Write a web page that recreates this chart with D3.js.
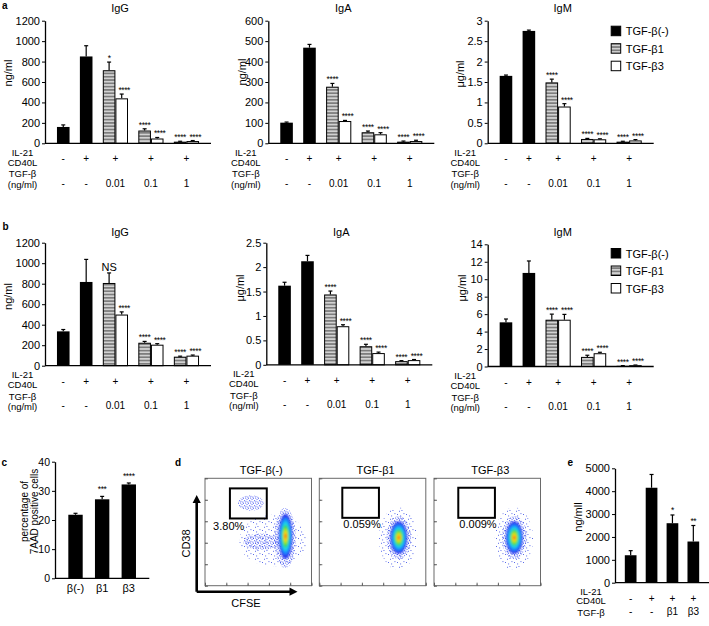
<!DOCTYPE html>
<html><head><meta charset="utf-8">
<script src="https://cdn.jsdelivr.net/npm/d3@7"></script>
<style>
body{margin:0;background:#fff}
svg{display:block}
text{font-family:"Liberation Sans",Arial,sans-serif;fill:#000}
</style></head><body>
<svg id="fig" width="709" height="626"></svg>
<script>
// ---------------- DATA ----------------
const groupIL21 = ["-", "+", "+", "+", "+"];
const groupTGF = ["-", "-", "0.01", "0.1", "1"];
const seriesNames = ["TGF-β(-)", "TGF-β1", "TGF-β3"];

// panel a
const aIgG_ticks = [0, 200, 400, 600, 800, 1000, 1200];
const aIgG_neg = [160, 850], aIgG_negSD = [20, 105];
const aIgG_b1 = [715, 125, 16], aIgG_b1SD = [80, 17, 4], aIgG_b1Sig = ["*", "****", "****"];
const aIgG_b3 = [440, 47, 22], aIgG_b3SD = [42, 10, 5], aIgG_b3Sig = ["****", "****", "****"];

const aIgA_ticks = [0, 100, 200, 300, 400, 500, 600];
const aIgA_neg = [101, 468], aIgA_negSD = [3, 16];
const aIgA_b1 = [277, 54, 8], aIgA_b1SD = [16, 6, 3], aIgA_b1Sig = ["****", "****", "****"];
const aIgA_b3 = [109, 44, 11], aIgA_b3SD = [3, 8, 4], aIgA_b3Sig = ["****", "****", "****"];

const aIgM_ticks = [0, 0.5, 1, 1.5, 2, 2.5, 3];
const aIgM_neg = [1.65, 2.75], aIgM_negSD = [0.02, 0.02];
const aIgM_b1 = [1.49, 0.106, 0.04], aIgM_b1SD = [0.08, 0.014, 0.01], aIgM_b1Sig = ["****", "****", "****"];
const aIgM_b3 = [0.90, 0.098, 0.07], aIgM_b3SD = [0.07, 0.012, 0.02], aIgM_b3Sig = ["****", "****", "****"];

// panel b
const bIgG_ticks = [0, 200, 400, 600, 800, 1000, 1200];
const bIgG_neg = [335, 817], bIgG_negSD = [18, 220];
const bIgG_b1 = [807, 224, 88], bIgG_b1SD = [98, 13, 5], bIgG_b1Sig = ["NS", "****", "****"];
const bIgG_b3 = [499, 205, 98], bIgG_b3SD = [26, 10, 6], bIgG_b3Sig = ["****", "****", "****"];

const bIgA_ticks = [0, 0.5, 1, 1.5, 2, 2.5];
const bIgA_neg = [1.62, 2.12], bIgA_negSD = [0.07, 0.12];
const bIgA_b1 = [1.44, 0.38, 0.075], bIgA_b1SD = [0.07, 0.04, 0.01], bIgA_b1Sig = ["****", "****", "****"];
const bIgA_b3 = [0.79, 0.24, 0.096], bIgA_b3SD = [0.03, 0.02, 0.012], bIgA_b3Sig = ["****", "****", "****"];

const bIgM_ticks = [0, 2, 4, 6, 8, 10, 12, 14];
const bIgM_neg = [5.06, 10.72], bIgM_negSD = [0.38, 1.37];
const bIgM_b1 = [5.36, 1.10, 0.08], bIgM_b1SD = [0.64, 0.19, 0.02], bIgM_b1Sig = ["****", "****", "****"];
const bIgM_b3 = [5.36, 1.52, 0.15], bIgM_b3SD = [0.61, 0.11, 0.02], bIgM_b3Sig = ["****", "****", "****"];

// panel c
const cCats = ["β(-)", "β1", "β3"];
const cTicks = [0, 10, 20, 30, 40];
const cVals = [21.8, 27.1, 32.2], cSD = [0.5, 1.0, 0.5], cSig = ["", "***", "****"];

// panel d (flow cytometry, axes in log decades)
const flowTitles = ["TGF-β(-)", "TGF-β1", "TGF-β3"];
const flowPct = ["3.80%", "0.059%", "0.009%"];
const flowGates = [[1.17, 2.9, 3.13, 4.53], [1.08, 2.8, 3.16, 4.56], [1.14, 2.86, 3.16, 4.56]];
const flowCores = [[0, 3.78, 2.3, 0.32, 1.05], [1, 3.73, 2.24, 0.40, 0.75], [2, 3.77, 2.24, 0.40, 0.75]];
const flowRims = [[0, 3.76, 2.22, 0.5, 1.4], [0, 2.65, 2.05, 0.85, 0.38], [0, 2.15, 3.85, 0.6, 0.36],
                  [1, 3.73, 2.24, 0.58, 1.0], [2, 3.77, 2.24, 0.58, 1.0]];
const flowSparse = [[0, 3.2, 2.1, 1.6, 1.2], [1, 3.7, 2.2, 0.9, 1.45], [2, 3.75, 2.2, 0.9, 1.45]];

// panel e
const eIL21 = ["-", "+", "+", "+"];
const eTGF = ["-", "-", "β1", "β3"];
const eTicks = [0, 1000, 2000, 3000, 4000, 5000];
const eVals = [1200, 4150, 2600, 1800], eSD = [200, 580, 360, 700], eSig = ["", "", "*", "**"];

// ---------------- DRAW ----------------
const svg = d3.select("#fig");
const defs = svg.append("defs");
const pat = defs.append("pattern").attr("id", "stripes").attr("patternUnits", "userSpaceOnUse")
  .attr("width", 4).attr("height", 3.3);
pat.append("rect").attr("width", 4).attr("height", 3.3).attr("fill", "#d2d2d2");
pat.append("rect").attr("width", 4).attr("height", 1.65).attr("fill", "#7d7d7d");

const sp = defs.append("pattern").attr("id", "dotsSparse").attr("patternUnits", "userSpaceOnUse")
  .attr("width", 9).attr("height", 8);
[[1, 2], [5.5, 6], [7.5, 1.2], [3, 6.8], [4.2, 3.5]].forEach(p =>
  sp.append("rect").attr("x", p[0]).attr("y", p[1]).attr("width", 0.9).attr("height", 0.9).attr("fill", "#3348e6"));
const dp = defs.append("pattern").attr("id", "dotsDense").attr("patternUnits", "userSpaceOnUse")
  .attr("width", 5).attr("height", 5);
[[0.5, 0.8], [3, 2.8], [1.6, 3.9], [4.1, 0.3], [2.4, 1.6], [0.2, 2.6]].forEach(p =>
  dp.append("rect").attr("x", p[0]).attr("y", p[1]).attr("width", 0.9).attr("height", 0.9).attr("fill", "#2a3df0"));
defs.append("filter").attr("id", "blur").attr("x", "-50%").attr("y", "-50%").attr("width", "200%").attr("height", "200%")
  .append("feGaussianBlur").attr("stdDeviation", 1.1);

const fmt = d => String(d);
const seriesFill = ["#000", "url(#stripes)", "#fff"];

function styleAxis(ax, fs) {
  ax.select(".domain").attr("stroke", "#000").attr("stroke-width", 1.3);
  ax.selectAll(".tick line").attr("stroke", "#000").attr("stroke-width", 1);
  ax.selectAll(".tick text").attr("font-size", fs).attr("fill", "#000")
    .attr("font-family", '"Liberation Sans",Arial,sans-serif');
}

function sigText(g, x, y, s) {
  g.append("text").attr("x", x).attr("y", y).attr("text-anchor", "middle")
    .attr("font-size", 8.5).attr("letter-spacing", -0.4).text(s);
}

function drawBars(g, bars, x, y, y0) {
  bars.forEach(b => {
    const xl = x(b.u), xr = x(b.u + 1), cx = (xl + xr) / 2;
    const yt = y(b.v), ye = y(b.v + b.sd);
    g.append("line").attr("x1", cx).attr("x2", cx).attr("y1", yt).attr("y2", ye).attr("stroke", "#000").attr("stroke-width", 1.2);
    g.append("line").attr("x1", cx - 2).attr("x2", cx + 2).attr("y1", ye).attr("y2", ye).attr("stroke", "#000").attr("stroke-width", 1.2);
    const r = g.append("rect").attr("fill", seriesFill[b.s]);
    if (b.s === 0) r.attr("x", xl).attr("y", yt).attr("width", xr - xl).attr("height", y0 - yt);
    else r.attr("x", xl + 0.5).attr("y", yt + 0.5).attr("width", xr - xl - 1).attr("height", Math.max(0, y0 - yt - 0.5))
      .attr("stroke", "#000").attr("stroke-width", 1);
    if (b.sig) {
      if (b.sig === "NS") g.append("text").attr("x", cx).attr("y", ye - 2).attr("text-anchor", "middle").attr("font-size", 11).text(b.sig);
      else sigText(g, cx + (b.s === 2 ? 2.5 : 0), ye - 1, b.sig);
    }
  });
}

function drawBarPanel(o) {
  const g = svg.append("g");
  const W = 166;
  const y = d3.scaleLinear().domain([0, d3.max(o.ticks)]).range([o.y0, o.yTop]);
  const groups = groupIL21.map((il, i) => i < o.neg.length
    ? [{ s: 0, v: o.neg[i], sd: o.negSD[i], sig: null }]
    : [{ s: 1, v: o.b1[i - 2], sd: o.b1SD[i - 2], sig: o.b1Sig[i - 2] },
       { s: 2, v: o.b3[i - 2], sd: o.b3SD[i - 2], sig: o.b3Sig[i - 2] }]);
  const PAD = 0.95, GAP = 0.82;
  let cur = PAD; const bars = [], centers = [];
  groups.forEach(bs => { const st = cur; bs.forEach(b => { bars.push(Object.assign({ u: cur }, b)); cur += 1; }); centers.push((st + cur) / 2); cur += GAP; });
  const total = cur - GAP + PAD;
  const x = d3.scaleLinear().domain([0, total]).range([o.x0, o.x0 + W]);

  drawBars(g, bars, x, y, o.y0);

  const ax = g.append("g").attr("transform", `translate(${o.x0},0)`)
    .call(d3.axisLeft(y).tickValues(o.ticks).tickFormat(fmt).tickSize(3).tickSizeOuter(0).tickPadding(2));
  styleAxis(ax, 11);
  g.append("line").attr("x1", o.x0).attr("x2", o.x0 + W).attr("y1", o.y0).attr("y2", o.y0).attr("stroke", "#000").attr("stroke-width", 1.3);

  g.append("text").attr("x", o.x0 + 75).attr("y", o.titleY).attr("text-anchor", "middle").attr("dominant-baseline", "central").attr("font-size", 11).text(o.title);
  g.append("text").attr("transform", `translate(${o.ylx},${o.yly}) rotate(-90)`).attr("text-anchor", "middle").attr("dominant-baseline", "central").attr("font-size", 11).text(o.unit);

  const lx = o.x0 - 22.5;
  g.append("text").attr("x", lx).attr("y", o.y0 + 12.6).attr("text-anchor", "middle").attr("font-size", 9.5).text("IL-21");
  g.append("text").attr("x", lx).attr("y", o.y0 + 22.2).attr("text-anchor", "middle").attr("font-size", 9.5).text("CD40L");
  g.append("text").attr("x", lx).attr("y", o.y0 + 34).attr("text-anchor", "middle").attr("font-size", 9.5).text("TGF-β");
  g.append("text").attr("x", lx).attr("y", o.y0 + 44.2).attr("text-anchor", "middle").attr("font-size", 9.5).text("(ng/ml)");
  centers.forEach((c, i) => {
    g.append("text").attr("x", x(c)).attr("y", o.y0 + 15.5).attr("text-anchor", "middle").attr("dominant-baseline", "central").attr("font-size", 10).text(groupIL21[i]);
    g.append("text").attr("x", x(c)).attr("y", o.y0 + 40).attr("text-anchor", "middle").attr("dominant-baseline", "central").attr("font-size", 10).text(groupTGF[i]);
  });
}

function drawLegend(x, top) {
  const g = svg.append("g");
  seriesNames.forEach((n, i) => {
    const yy = top + i * 17.5;
    g.append("rect").attr("x", x + 0.5).attr("y", yy + 0.5).attr("width", 9.5).attr("height", 9.5)
      .attr("fill", seriesFill[i]).attr("stroke", "#000").attr("stroke-width", 1);
    g.append("text").attr("x", x + 15).attr("y", yy + 5.5).attr("dominant-baseline", "central").attr("font-size", 11).text(n);
  });
}

const panels = [
  { title: "IgG", unit: "ng/ml", x0: 45, y0: 143.3, yTop: 20.7, titleY: 7.5, ylx: 7.5, yly: 73, ticks: aIgG_ticks,
    neg: aIgG_neg, negSD: aIgG_negSD, b1: aIgG_b1, b1SD: aIgG_b1SD, b1Sig: aIgG_b1Sig, b3: aIgG_b3, b3SD: aIgG_b3SD, b3Sig: aIgG_b3Sig },
  { title: "IgA", unit: "ng/ml", x0: 268.3, y0: 143.3, yTop: 20.7, titleY: 7.5, ylx: 241.5, yly: 72, ticks: aIgA_ticks,
    neg: aIgA_neg, negSD: aIgA_negSD, b1: aIgA_b1, b1SD: aIgA_b1SD, b1Sig: aIgA_b1Sig, b3: aIgA_b3, b3SD: aIgA_b3SD, b3Sig: aIgA_b3Sig },
  { title: "IgM", unit: "μg/ml", x0: 487.7, y0: 143.3, yTop: 20.7, titleY: 7.5, ylx: 459.5, yly: 74, ticks: aIgM_ticks,
    neg: aIgM_neg, negSD: aIgM_negSD, b1: aIgM_b1, b1SD: aIgM_b1SD, b1Sig: aIgM_b1Sig, b3: aIgM_b3, b3SD: aIgM_b3SD, b3Sig: aIgM_b3Sig },
  { title: "IgG", unit: "ng/ml", x0: 45, y0: 365.7, yTop: 242.7, titleY: 232, ylx: 7.5, yly: 296.5, ticks: bIgG_ticks,
    neg: bIgG_neg, negSD: bIgG_negSD, b1: bIgG_b1, b1SD: bIgG_b1SD, b1Sig: bIgG_b1Sig, b3: bIgG_b3, b3SD: bIgG_b3SD, b3Sig: bIgG_b3Sig },
  { title: "IgA", unit: "μg/ml", x0: 266.3, y0: 364.8, yTop: 242.7, titleY: 232, ylx: 240, yly: 288, ticks: bIgA_ticks,
    neg: bIgA_neg, negSD: bIgA_negSD, b1: bIgA_b1, b1SD: bIgA_b1SD, b1Sig: bIgA_b1Sig, b3: bIgA_b3, b3SD: bIgA_b3SD, b3Sig: bIgA_b3Sig },
  { title: "IgM", unit: "μg/ml", x0: 487.7, y0: 366.5, yTop: 244.3, titleY: 232, ylx: 461.5, yly: 288, ticks: bIgM_ticks,
    neg: bIgM_neg, negSD: bIgM_negSD, b1: bIgM_b1, b1SD: bIgM_b1SD, b1Sig: bIgM_b1Sig, b3: bIgM_b3, b3SD: bIgM_b3SD, b3Sig: bIgM_b3Sig }
];
panels.forEach(drawBarPanel);
drawLegend(610.7, 25.7);
drawLegend(610.7, 248);

[["a", 2, 8.5], ["b", 2.5, 229.5], ["c", 1.5, 466], ["d", 175, 465.7], ["e", 567.5, 465.7]].forEach(p =>
  svg.append("text").attr("x", p[1]).attr("y", p[2]).attr("font-size", 10).attr("font-weight", "bold").text(p[0]));

// ---------- panel c ----------
(function () {
  const g = svg.append("g");
  const x0 = 55, x1 = 149.3, y0 = 578.3, yTop = 461.7;
  const x = d3.scaleBand().domain(cCats).range([x0, x1]).paddingInner(0.46).paddingOuter(0.5);
  const y = d3.scaleLinear().domain([0, d3.max(cTicks)]).range([y0, yTop]);
  cCats.forEach((c, i) => {
    const cx = x(c) + x.bandwidth() / 2, ye = y(cVals[i] + cSD[i]);
    g.append("line").attr("x1", cx).attr("x2", cx).attr("y1", y(cVals[i])).attr("y2", ye).attr("stroke", "#000").attr("stroke-width", 1.2);
    g.append("line").attr("x1", cx - 2).attr("x2", cx + 2).attr("y1", ye).attr("y2", ye).attr("stroke", "#000").attr("stroke-width", 1.2);
    g.append("rect").attr("x", x(c)).attr("y", y(cVals[i])).attr("width", x.bandwidth()).attr("height", y0 - y(cVals[i])).attr("fill", "#000");
    if (cSig[i]) sigText(g, cx, ye - 4, cSig[i]);
    g.append("text").attr("x", cx).attr("y", y0 + 10).attr("text-anchor", "middle").attr("dominant-baseline", "central").attr("font-size", 11).text(c);
  });
  const ax = g.append("g").attr("transform", `translate(${x0},0)`)
    .call(d3.axisLeft(y).tickValues(cTicks).tickFormat(fmt).tickSize(3).tickSizeOuter(0).tickPadding(2));
  styleAxis(ax, 10.5);
  g.append("line").attr("x1", x0).attr("x2", x1).attr("y1", y0).attr("y2", y0).attr("stroke", "#000").attr("stroke-width", 1.3);
  g.append("text").attr("transform", "translate(24,511.5) rotate(-90)").attr("text-anchor", "middle").attr("dominant-baseline", "central").attr("font-size", 10).text("percentage of");
  g.append("text").attr("transform", "translate(34.5,511.5) rotate(-90)").attr("text-anchor", "middle").attr("dominant-baseline", "central").attr("font-size", 10).text("7AAD positive cells");
})();

// ---------- panel d ----------
(function () {
  const boxL = [205, 319.3, 434], bw = 106.5, top = 478.3, bot = 585.7;
  flowTitles.forEach((t, i) => {
    const g = svg.append("g");
    const xs = d3.scaleLinear().domain([0, 5]).range([boxL[i], boxL[i] + bw]);
    const ys = d3.scaleLinear().domain([0, 5]).range([bot, top]);
    const lx = d3.scaleLog().domain([1, 1e5]).range([boxL[i], boxL[i] + bw]);
    const ly = d3.scaleLog().domain([1, 1e5]).range([bot, top]);
    const cid = "clip" + i;
    defs.append("clipPath").attr("id", cid).append("rect").attr("x", boxL[i]).attr("y", top).attr("width", bw).attr("height", bot - top);
    const dens = g.append("g").attr("clip-path", `url(#${cid})`);
    const ell = (sel, d, fill) => sel.append("ellipse").attr("cx", xs(d[1])).attr("cy", ys(d[2]))
      .attr("rx", xs(d[3]) - xs(0)).attr("ry", ys(0) - ys(d[4])).attr("fill", fill);
    flowSparse.filter(d => d[0] === i).forEach(d => ell(dens, d, "url(#dotsSparse)"));
    flowRims.filter(d => d[0] === i).forEach(d => ell(dens, d, "url(#dotsDense)"));
    const core = dens.append("g").attr("filter", "url(#blur)");
    const levels = [[1.0, "#2a3cf0"], [0.82, "#1f8cff"], [0.66, "#1fd2e6"], [0.5, "#3cd85a"], [0.36, "#b4e41e"], [0.23, "#ffd21a"], [0.12, "#ff4a14"]];
    flowCores.filter(d => d[0] === i).forEach(d => levels.forEach(l =>
      ell(core, [d[0], d[1], d[2], d[3] * l[0], d[4] * l[0]], l[1])));
    g.append("rect").attr("x", boxL[i]).attr("y", top).attr("width", bw).attr("height", bot - top)
      .attr("fill", "none").attr("stroke", "#6a6a6a").attr("stroke-width", 1);
    const bAx = g.append("g").attr("transform", `translate(0,${bot})`).call(d3.axisBottom(lx).ticks(5).tickFormat("").tickSize(-1.5).tickSizeOuter(0));
    const lAx = g.append("g").attr("transform", `translate(${boxL[i]},0)`).call(d3.axisLeft(ly).ticks(5).tickFormat("").tickSize(-1.5).tickSizeOuter(0));
    [bAx, lAx].forEach(a => { a.select(".domain").remove(); a.selectAll(".tick line").attr("stroke", "#777").attr("stroke-width", 0.8); });
    const bAx2 = g.append("g").attr("transform", `translate(0,${bot})`).call(d3.axisBottom(lx).tickValues([1, 10, 100, 1e3, 1e4, 1e5]).tickFormat("").tickSize(-3).tickSizeOuter(0));
    const lAx2 = g.append("g").attr("transform", `translate(${boxL[i]},0)`).call(d3.axisLeft(ly).tickValues([1, 10, 100, 1e3, 1e4, 1e5]).tickFormat("").tickSize(-3).tickSizeOuter(0));
    [bAx2, lAx2].forEach(a => { a.select(".domain").remove(); a.selectAll(".tick line").attr("stroke", "#555").attr("stroke-width", 0.9); });
    const gt = flowGates[i];
    g.append("rect").attr("x", xs(gt[0])).attr("y", ys(gt[3])).attr("width", xs(gt[1]) - xs(gt[0])).attr("height", ys(gt[2]) - ys(gt[3]))
      .attr("fill", "none").attr("stroke", "#000").attr("stroke-width", 2);
    const pctX = i === 0 ? xs(0.38) : xs(gt[0] + 0.05);
    const pctY = i === 0 ? ys(2.6) : ys(2.68);
    g.append("text").attr("x", pctX).attr("y", pctY).attr("font-size", 11).text(flowPct[i]);
    g.append("text").attr("x", boxL[i] + bw / 2 + 3).attr("y", 469.5).attr("text-anchor", "middle").attr("dominant-baseline", "central").attr("font-size", 11).text(t);
  });
  const ag = svg.append("g");
  ag.append("path").attr("d", "M196.7,591.7 V501 M196.7,591.7 H291").attr("stroke", "#000").attr("stroke-width", 2.6).attr("fill", "none");
  ag.append("path").attr("d", "M196.7,495 L192.6,503 L200.8,503 Z M297.5,591.7 L289.5,587.6 L289.5,595.8 Z").attr("fill", "#000");
  ag.append("text").attr("transform", "translate(186,543.5) rotate(-90)").attr("text-anchor", "middle").attr("dominant-baseline", "central").attr("font-size", 11).text("CD38");
  ag.append("text").attr("x", 246).attr("y", 602.7).attr("text-anchor", "middle").attr("dominant-baseline", "central").attr("font-size", 11).text("CFSE");
})();

// ---------- panel e ----------
(function () {
  const g = svg.append("g");
  const x0 = 615, x1 = 709, y0 = 582.7, yTop = 468.3;
  const idx = eVals.map((d, i) => i);
  const x = d3.scaleBand().domain(idx).range([x0, x1]).paddingInner(0.44).paddingOuter(0.47);
  const y = d3.scaleLinear().domain([0, d3.max(eTicks)]).range([y0, yTop]);
  idx.forEach(i => {
    const cx = x(i) + x.bandwidth() / 2, ye = y(eVals[i] + eSD[i]);
    g.append("line").attr("x1", cx).attr("x2", cx).attr("y1", y(eVals[i])).attr("y2", ye).attr("stroke", "#000").attr("stroke-width", 1.2);
    g.append("line").attr("x1", cx - 2).attr("x2", cx + 2).attr("y1", ye).attr("y2", ye).attr("stroke", "#000").attr("stroke-width", 1.2);
    g.append("rect").attr("x", x(i)).attr("y", y(eVals[i])).attr("width", x.bandwidth()).attr("height", y0 - y(eVals[i])).attr("fill", "#000");
    if (eSig[i]) sigText(g, cx, ye - 2, eSig[i]);
    g.append("text").attr("x", cx).attr("y", y0 + 15.6).attr("text-anchor", "middle").attr("dominant-baseline", "central").attr("font-size", 10).text(eIL21[i]);
    g.append("text").attr("x", cx).attr("y", y0 + 29).attr("text-anchor", "middle").attr("dominant-baseline", "central").attr("font-size", 10).text(eTGF[i]);
  });
  const ax = g.append("g").attr("transform", `translate(${x0},0)`)
    .call(d3.axisLeft(y).tickValues(eTicks).tickFormat(fmt).tickSize(3).tickSizeOuter(0).tickPadding(2));
  styleAxis(ax, 11);
  g.append("line").attr("x1", x0).attr("x2", x1).attr("y1", y0).attr("y2", y0).attr("stroke", "#000").attr("stroke-width", 1.3);
  g.append("text").attr("transform", "translate(578,517) rotate(-90)").attr("text-anchor", "middle").attr("dominant-baseline", "central").attr("font-size", 11).text("ng/mll");
  g.append("text").attr("x", 591).attr("y", 594.5).attr("text-anchor", "middle").attr("font-size", 9.5).text("IL-21");
  g.append("text").attr("x", 591).attr("y", 604.3).attr("text-anchor", "middle").attr("font-size", 9.5).text("CD40L");
  g.append("text").attr("x", 591).attr("y", 616).attr("text-anchor", "middle").attr("font-size", 9.5).text("TGF-β");
})();
</script></body></html>
